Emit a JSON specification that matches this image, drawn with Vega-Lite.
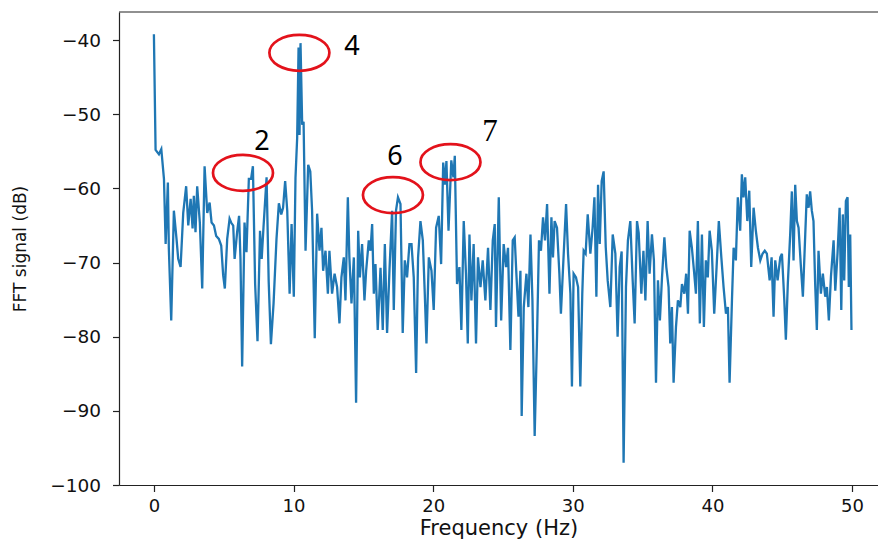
{
  "$schema": "https://vega.github.io/schema/vega-lite/v6.json",
  "autosize": {"type": "none"},
  "width": 759,
  "height": 473,
  "padding": {"left": 119, "top": 12, "right": 0, "bottom": 58},
  "background": "white",
  "config": {
    "view": {"stroke": null},
    "font": "DejaVu Sans",
    "axis": {
      "grid": false,
      "labelFont": "DejaVu Sans",
      "titleFont": "DejaVu Sans",
      "labelFontSize": 18,
      "labelColor": "#111",
      "titleColor": "#111",
      "titleFontWeight": "normal",
      "tickColor": "#222",
      "domainColor": "#222",
      "tickSize": 6.5,
      "tickWidth": 1.2,
      "domainWidth": 1.2
    }
  },
  "datasets": {
    "fft": [
      {"f":0,"db":-39.2},{"f":0.12,"db":-54.8},{"f":0.36,"db":-55.4},{"f":0.53,"db":-54.7},{"f":0.72,"db":-58.7},{"f":0.84,"db":-67.5},
      {"f":1.0,"db":-59.2},{"f":1.07,"db":-68.1},{"f":1.24,"db":-77.8},{"f":1.43,"db":-63.0},{"f":1.62,"db":-66.8},{"f":1.74,"db":-69.5},{"f":1.91,"db":-70.6},
      {"f":2.1,"db":-63.3},{"f":2.31,"db":-59.7},{"f":2.46,"db":-65.0},{"f":2.63,"db":-61.4},{"f":2.77,"db":-65.4},{"f":2.86,"db":-61.0},{"f":2.98,"db":-65.9},
      {"f":3.1,"db":-59.7},{"f":3.29,"db":-64.6},{"f":3.46,"db":-73.5},{"f":3.63,"db":-57.0},{"f":3.82,"db":-63.3},{"f":3.99,"db":-61.9},
      {"f":4.13,"db":-64.6},{"f":4.3,"db":-65.0},{"f":4.46,"db":-66.4},{"f":4.65,"db":-66.8},{"f":4.82,"db":-67.7},{"f":4.96,"db":-71.7},
      {"f":5.08,"db":-73.5},{"f":5.25,"db":-66.8},{"f":5.42,"db":-64.1},{"f":5.53,"db":-64.6},{"f":5.68,"db":-65.0},{"f":5.78,"db":-69.5},{"f":5.96,"db":-65.9},
      {"f":6.1,"db":-63.7},{"f":6.2,"db":-69.5},{"f":6.32,"db":-84.0},{"f":6.49,"db":-64.6},{"f":6.63,"db":-68.6},{"f":6.8,"db":-58.7},{"f":6.96,"db":-58.7},
      {"f":7.09,"db":-57.0},{"f":7.25,"db":-72.9},{"f":7.42,"db":-80.6},{"f":7.6,"db":-65.7},{"f":7.72,"db":-69.5},{"f":7.85,"db":-65.2},
      {"f":8.07,"db":-58.5},{"f":8.22,"db":-72.5},{"f":8.38,"db":-81.0},{"f":8.57,"db":-75.5},{"f":8.78,"db":-66.8},{"f":8.95,"db":-62.0},
      {"f":9.12,"db":-63.5},{"f":9.25,"db":-62.6},{"f":9.4,"db":-59.0},{"f":9.55,"db":-63.0},{"f":9.72,"db":-74.2},{"f":9.86,"db":-64.8},
      {"f":10.02,"db":-74.6},{"f":10.14,"db":-58.6},{"f":10.26,"db":-53.2},{"f":10.36,"db":-41.0},{"f":10.43,"db":-52.8},{"f":10.5,"db":-40.4},{"f":10.62,"db":-51.4},{"f":10.72,"db":-51.0},{"f":10.86,"db":-68.4},
      {"f":11.05,"db":-56.8},{"f":11.2,"db":-57.7},{"f":11.33,"db":-63.0},{"f":11.52,"db":-80.2},{"f":11.69,"db":-63.4},{"f":11.86,"db":-68.4},
      {"f":12.0,"db":-65.3},{"f":12.12,"db":-71.1},{"f":12.29,"db":-68.4},{"f":12.46,"db":-74.2},{"f":12.57,"db":-68.4},{"f":12.76,"db":-74.2},{"f":12.94,"db":-71.5},
      {"f":13.12,"db":-73.3},{"f":13.29,"db":-78.2},{"f":13.43,"db":-72.0},{"f":13.6,"db":-69.3},{"f":13.72,"db":-75.1},{"f":13.89,"db":-61.2},
      {"f":14.0,"db":-69.3},{"f":14.15,"db":-75.5},{"f":14.32,"db":-69.3},{"f":14.48,"db":-88.9},{"f":14.63,"db":-65.7},{"f":14.75,"db":-72.0},{"f":14.91,"db":-67.5},
      {"f":15.08,"db":-75.1},{"f":15.2,"db":-71.1},{"f":15.39,"db":-67.0},{"f":15.51,"db":-68.4},{"f":15.63,"db":-64.8},{"f":15.75,"db":-74.2},{"f":15.87,"db":-70.2},
      {"f":16.03,"db":-79.1},{"f":16.23,"db":-70.7},{"f":16.39,"db":-79.1},{"f":16.54,"db":-67.5},{"f":16.7,"db":-79.5},{"f":16.87,"db":-71.1},
      {"f":17.06,"db":-63.0},{"f":17.18,"db":-76.4},{"f":17.34,"db":-63.0},{"f":17.48,"db":-61.2},{"f":17.66,"db":-62.1},{"f":17.82,"db":-79.5},{"f":17.97,"db":-69.7},
      {"f":18.13,"db":-72.0},{"f":18.3,"db":-67.5},{"f":18.45,"db":-67.5},{"f":18.61,"db":-72.0},{"f":18.78,"db":-84.9},{"f":18.92,"db":-69.3},
      {"f":19.09,"db":-64.4},{"f":19.26,"db":-67.0},{"f":19.4,"db":-74.2},{"f":19.52,"db":-80.9},{"f":19.69,"db":-69.3},{"f":19.88,"db":-71.1},
      {"f":20.04,"db":-76.4},{"f":20.21,"db":-65.3},{"f":20.4,"db":-63.7},{"f":20.57,"db":-70.2},{"f":20.72,"db":-56.5},{"f":20.85,"db":-59.5},{"f":20.95,"db":-56.3},
      {"f":21.1,"db":-65.7},{"f":21.3,"db":-56.2},{"f":21.45,"db":-58.5},{"f":21.55,"db":-55.6},{"f":21.71,"db":-72.9},{"f":21.88,"db":-70.6},
      {"f":22.02,"db":-79.1},{"f":22.19,"db":-64.4},{"f":22.35,"db":-71.5},{"f":22.48,"db":-80.9},{"f":22.6,"db":-66.2},{"f":22.74,"db":-75.1},{"f":22.9,"db":-67.5},
      {"f":23.07,"db":-80.9},{"f":23.21,"db":-69.3},{"f":23.39,"db":-73.3},{"f":23.55,"db":-69.7},{"f":23.74,"db":-75.1},{"f":23.93,"db":-68.0},
      {"f":24.1,"db":-76.4},{"f":24.27,"db":-67.0},{"f":24.41,"db":-64.8},{"f":24.5,"db":-78.7},{"f":24.7,"db":-61.2},{"f":24.87,"db":-77.8},
      {"f":25.05,"db":-67.5},{"f":25.22,"db":-70.6},{"f":25.36,"db":-68.0},{"f":25.53,"db":-81.8},{"f":25.7,"db":-67.0},{"f":25.84,"db":-66.6},{"f":25.96,"db":-71.5},
      {"f":26.11,"db":-77.3},{"f":26.25,"db":-71.1},{"f":26.34,"db":-90.7},{"f":26.49,"db":-76.0},{"f":26.68,"db":-71.5},{"f":26.82,"db":-76.0},{"f":26.97,"db":-66.2},
      {"f":27.11,"db":-75.1},{"f":27.27,"db":-93.4},{"f":27.44,"db":-80.0},{"f":27.58,"db":-67.0},{"f":27.72,"db":-68.4},{"f":27.87,"db":-63.9},
      {"f":28.01,"db":-67.0},{"f":28.16,"db":-62.1},{"f":28.33,"db":-74.2},{"f":28.47,"db":-63.9},{"f":28.58,"db":-69.3},{"f":28.7,"db":-64.4},{"f":28.87,"db":-65.3},
      {"f":29.04,"db":-71.5},{"f":29.15,"db":-76.9},{"f":29.35,"db":-68.8},{"f":29.52,"db":-62.1},{"f":29.66,"db":-68.8},{"f":29.83,"db":-74.2},{"f":29.94,"db":-86.7},
      {"f":30.06,"db":-71.5},{"f":30.23,"db":-72.0},{"f":30.38,"db":-73.3},{"f":30.54,"db":-86.7},{"f":30.68,"db":-74.2},{"f":30.78,"db":-68.4},{"f":30.92,"db":-68.8},
      {"f":31.07,"db":-63.5},{"f":31.26,"db":-68.8},{"f":31.42,"db":-65.3},{"f":31.55,"db":-61.2},{"f":31.69,"db":-74.6},{"f":31.81,"db":-59.5},{"f":31.93,"db":-67.5},
      {"f":32.07,"db":-59.0},{"f":32.21,"db":-57.7},{"f":32.36,"db":-67.9},{"f":32.5,"db":-72.4},{"f":32.69,"db":-76.0},{"f":32.86,"db":-66.2},
      {"f":33.05,"db":-68.8},{"f":33.21,"db":-80.0},{"f":33.36,"db":-70.6},{"f":33.5,"db":-68.5},{"f":33.64,"db":-97.0},{"f":33.81,"db":-73.3},{"f":33.95,"db":-67.0},
      {"f":34.12,"db":-64.4},{"f":34.29,"db":-72.4},{"f":34.43,"db":-78.2},{"f":34.6,"db":-64.4},{"f":34.72,"db":-66.0},{"f":34.91,"db":-74.2},
      {"f":35.06,"db":-68.4},{"f":35.2,"db":-75.1},{"f":35.36,"db":-64.4},{"f":35.5,"db":-71.5},{"f":35.67,"db":-66.2},{"f":35.81,"db":-69.7},{"f":35.96,"db":-86.2},
      {"f":36.1,"db":-72.4},{"f":36.24,"db":-77.8},{"f":36.39,"db":-72.0},{"f":36.56,"db":-66.6},{"f":36.7,"db":-70.6},{"f":36.86,"db":-73.3},{"f":36.98,"db":-80.9},
      {"f":37.1,"db":-76.0},{"f":37.22,"db":-86.2},{"f":37.39,"db":-78.7},{"f":37.53,"db":-75.1},{"f":37.7,"db":-76.0},{"f":37.82,"db":-72.9},{"f":37.99,"db":-74.2},
      {"f":38.12,"db":-71.5},{"f":38.25,"db":-76.9},{"f":38.37,"db":-65.7},{"f":38.53,"db":-68.0},{"f":38.68,"db":-71.1},{"f":38.82,"db":-74.2},{"f":38.96,"db":-64.4},
      {"f":39.1,"db":-78.2},{"f":39.25,"db":-66.2},{"f":39.39,"db":-78.7},{"f":39.53,"db":-69.7},{"f":39.67,"db":-72.0},{"f":39.8,"db":-65.7},{"f":39.96,"db":-68.4},
      {"f":40.13,"db":-76.9},{"f":40.3,"db":-70.6},{"f":40.46,"db":-64.4},{"f":40.64,"db":-69.3},{"f":40.8,"db":-73.3},{"f":40.97,"db":-76.9},
      {"f":41.11,"db":-76.0},{"f":41.23,"db":-86.2},{"f":41.4,"db":-75.1},{"f":41.52,"db":-68.0},{"f":41.68,"db":-69.7},{"f":41.82,"db":-61.2},{"f":41.99,"db":-65.7},
      {"f":42.11,"db":-58.1},{"f":42.23,"db":-61.2},{"f":42.35,"db":-58.5},{"f":42.5,"db":-64.4},{"f":42.64,"db":-60.3},{"f":42.78,"db":-70.6},{"f":42.95,"db":-62.6},
      {"f":43.11,"db":-65.7},{"f":43.26,"db":-68.0},{"f":43.43,"db":-69.7},{"f":43.59,"db":-68.8},{"f":43.75,"db":-68.4},{"f":43.9,"db":-68.8},
      {"f":44.1,"db":-72.4},{"f":44.24,"db":-69.3},{"f":44.38,"db":-77.3},{"f":44.5,"db":-69.7},{"f":44.67,"db":-72.4},{"f":44.86,"db":-69.3},{"f":44.98,"db":-68.8},
      {"f":45.15,"db":-75.1},{"f":45.26,"db":-80.4},{"f":45.4,"db":-72.9},{"f":45.57,"db":-66.2},{"f":45.69,"db":-60.4},{"f":45.81,"db":-69.7},{"f":45.93,"db":-59.5},
      {"f":46.05,"db":-64.4},{"f":46.17,"db":-65.3},{"f":46.34,"db":-70.6},{"f":46.48,"db":-74.6},{"f":46.65,"db":-66.2},{"f":46.76,"db":-60.8},{"f":46.89,"db":-62.6},
      {"f":47.0,"db":-60.4},{"f":47.12,"db":-63.0},{"f":47.24,"db":-64.4},{"f":47.36,"db":-72.9},{"f":47.48,"db":-79.1},{"f":47.6,"db":-68.4},{"f":47.77,"db":-74.2},{"f":47.91,"db":-71.5},
      {"f":48.08,"db":-74.6},{"f":48.2,"db":-73.3},{"f":48.34,"db":-77.8},{"f":48.49,"db":-71.9},{"f":48.68,"db":-67.0},{"f":48.8,"db":-73.8},{"f":48.96,"db":-68.8},
      {"f":49.11,"db":-62.6},{"f":49.23,"db":-76.4},{"f":49.34,"db":-63.5},{"f":49.44,"db":-72.4},{"f":49.56,"db":-61.7},{"f":49.68,"db":-61.2},{"f":49.77,"db":-73.3},{"f":49.87,"db":-66.2},{"f":49.96,"db":-79.1}
    ],
    "notes": [
      {"kind":"ellipse","label":"2","f":6.38,"db":-57.9},
      {"kind":"ellipse","label":"4","f":10.42,"db":-41.7},
      {"kind":"ellipse","label":"6","f":17.12,"db":-60.9},
      {"kind":"ellipse","label":"7","f":21.24,"db":-56.45},
      {"kind":"text","label":"2","f":7.74,"db":-53.75},
      {"kind":"text","label":"4","f":14.18,"db":-40.94},
      {"kind":"text","label":"6","f":17.26,"db":-55.77},
      {"kind":"text","label":"7","f":24.07,"db":-52.4}
    ]
  },
  "layer": [
    {
      "data": {"name": "fft"},
      "mark": {"type": "line", "color": "#1f77b4", "strokeWidth": 2.3, "clip": true},
      "encoding": {
        "x": {"field": "f", "type": "quantitative", "title": "Frequency (Hz)",
              "scale": {"domain": [-2.5, 51.86], "nice": false, "zero": false},
              "axis": {"values": [0,10,20,30,40,50], "labelPadding": 6, "titleFontSize": 21, "titlePadding": 2}},
        "y": {"field": "db", "type": "quantitative", "title": "FFT signal (dB)",
              "scale": {"domain": [-100, -36.2], "nice": false, "zero": false},
              "axis": {"values": [-100,-90,-80,-70,-60,-50,-40], "labelPadding": 12, "labelFontSize": 18.5, "titleFontSize": 17, "titlePadding": 20,
                       "labelExpr": "replace(datum.label, '-', '\u2212')"}}
      }
    },
    {
      "data": {"values": [{"top": -36.2}]},
      "mark": {"type": "rule", "color": "#222", "strokeWidth": 1.2},
      "encoding": {
        "y": {"field": "top", "type": "quantitative", "title": "FFT signal (dB)",
              "scale": {"domain": [-100, -36.2], "nice": false, "zero": false}}
      }
    },
    {
      "data": {"name": "notes"},
      "transform": [{"filter": "datum.kind == 'ellipse'"}],
      "mark": {"type": "point", "shape": "M-1,0A1,0.6,0,1,0,1,0A1,0.6,0,1,0,-1,0Z", "size": 3600, "filled": false, "stroke": "#e3121b", "strokeWidth": 2.7, "opacity": 1},
      "encoding": {
        "x": {"field": "f", "type": "quantitative", "title": "Frequency (Hz)", "scale": {"domain": [-2.5, 51.86], "nice": false, "zero": false}},
        "y": {"field": "db", "type": "quantitative", "title": "FFT signal (dB)", "scale": {"domain": [-100, -36.2], "nice": false, "zero": false}}
      }
    },
    {
      "data": {"name": "notes"},
      "transform": [{"filter": "datum.kind == 'text' && datum.label != '7'"}],
      "mark": {"type": "text", "font": "Noto Sans", "fontSize": 27, "color": "#000", "align": "center", "baseline": "middle"},
      "encoding": {
        "x": {"field": "f", "type": "quantitative", "title": "Frequency (Hz)", "scale": {"domain": [-2.5, 51.86], "nice": false, "zero": false}},
        "y": {"field": "db", "type": "quantitative", "title": "FFT signal (dB)", "scale": {"domain": [-100, -36.2], "nice": false, "zero": false}},
        "text": {"field": "label"}
      }
    },
    {
      "data": {"name": "notes"},
      "transform": [{"filter": "datum.kind == 'text' && datum.label == '7'"}],
      "mark": {"type": "text", "font": "Liberation Serif", "fontSize": 31, "color": "#000", "align": "center", "baseline": "middle"},
      "encoding": {
        "x": {"field": "f", "type": "quantitative", "title": "Frequency (Hz)", "scale": {"domain": [-2.5, 51.86], "nice": false, "zero": false}},
        "y": {"field": "db", "type": "quantitative", "title": "FFT signal (dB)", "scale": {"domain": [-100, -36.2], "nice": false, "zero": false}},
        "text": {"field": "label"}
      }
    }
  ]
}
